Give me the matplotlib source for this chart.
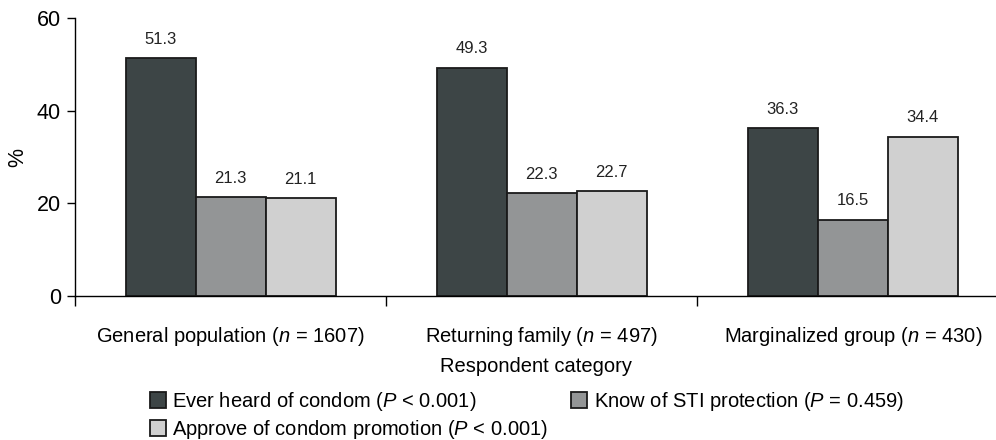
import matplotlib
matplotlib.use("Agg")
import matplotlib.pyplot as plt
from matplotlib.patches import Patch
import numpy as np

plt.rcParams['font.family'] = ['Liberation Sans', 'DejaVu Sans']
plt.rcParams['mathtext.fontset'] = 'custom'
plt.rcParams['mathtext.rm'] = 'Liberation Sans'
plt.rcParams['mathtext.it'] = 'Liberation Sans:italic'

categories = [r"General population ($\it{n}$ = 1607)",
              r"Returning family ($\it{n}$ = 497)",
              r"Marginalized group ($\it{n}$ = 430)"]
series_names = [r"Ever heard of condom ($\it{P}$ < 0.001)",
                r"Know of STI protection ($\it{P}$ = 0.459)",
                r"Approve of condom promotion ($\it{P}$ < 0.001)"]
ever_heard = [51.3, 49.3, 36.3]
know_sti = [21.3, 22.3, 16.5]
approve = [21.1, 22.7, 34.4]
y_ticks = [0, 20, 40, 60]

colors = ['#3d4546', '#939596', '#d0d0d0']
series = [ever_heard, know_sti, approve]

fig = plt.figure(figsize=(9.96, 4.4), dpi=100)
ax = fig.add_axes([75/996, 1-296/440, 1-75/996, (296-18)/440])

centers = np.arange(len(categories)) + 0.5
w = 0.225
handles = []
for i, (vals, c, name) in enumerate(zip(series, colors, series_names)):
    xs = centers + (i - 1) * w
    ax.bar(xs, vals, width=w, color=c, edgecolor='#1a1a1a', linewidth=1.3, zorder=2)
    for x, v in zip(xs, vals):
        ax.text(x, v + 2.4, f"{v:.1f}", ha='center', va='bottom', fontsize=12, color='#222222')
    handles.append(Patch(facecolor=c, edgecolor='#1a1a1a', linewidth=1.3, label=name))

ax.set_xlim(0, 2.96)
ax.set_ylim(0, 60)
ax.set_yticks(y_ticks)
ax.tick_params(axis='y', labelsize=15.5, length=6, width=1, direction='out', pad=4)
ax.set_xticks([0, 1, 2])
ax.set_xticklabels([])
ax.tick_params(axis='x', length=7, width=1, direction='out')
ax.set_xticks(centers, minor=True)
ax.set_xticklabels(categories, minor=True, fontsize=14.5)
ax.tick_params(axis='x', which='minor', length=0, pad=21)
for s in ['top', 'right']:
    ax.spines[s].set_visible(False)
ax.spines['left'].set_linewidth(1)
ax.spines['bottom'].set_linewidth(1)
ax.set_ylabel('%', fontsize=15.5, labelpad=6)
ax.set_xlabel('Respondent category', fontsize=14.5, labelpad=6)

leg = fig.legend([handles[0], handles[2], handles[1]],
                 [series_names[0], series_names[2], series_names[1]],
                 ncol=2, loc='upper left', bbox_to_anchor=(140/996, 1-380/440),
                 frameon=False, fontsize=14.5, handlelength=0.8, handleheight=0.8,
                 handletextpad=0.3, columnspacing=1.15, labelspacing=0.25, borderpad=0)

fig.savefig('out.png', dpi=100)
